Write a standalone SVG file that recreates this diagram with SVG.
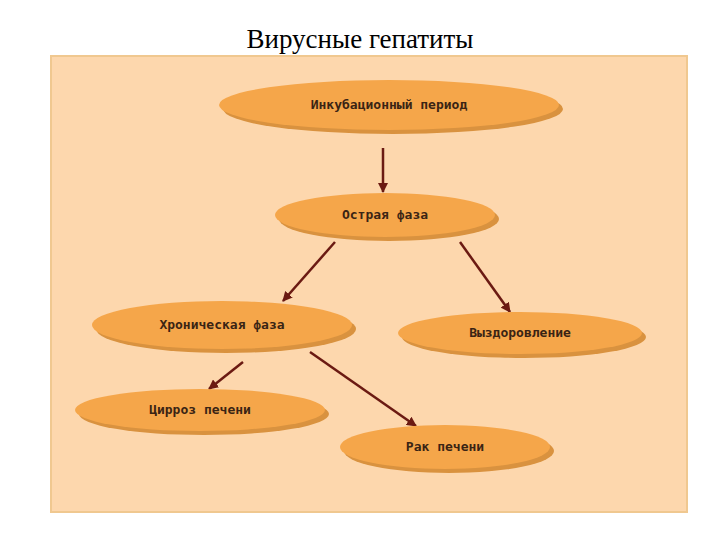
<svg xmlns="http://www.w3.org/2000/svg" width="720" height="540" viewBox="0 0 720 540">
<defs>
<style>
.n ellipse.s{fill:#d9923f;}
.n ellipse.f{fill:#f5a64a;}
.n text{font-family:"DejaVu Sans Mono",monospace;font-size:13px;font-weight:bold;fill:#3a2414;text-anchor:middle;dominant-baseline:middle;}
.c line{stroke:#6b1a12;stroke-width:2.5;marker-end:url(#ah);}
</style>
<marker id="ah" viewBox="0 0 10 10" refX="9" refY="5" markerWidth="4" markerHeight="4" orient="auto"><path d="M0,0L10,5L0,10z" fill="#6b1a12"/></marker>
</defs>
<rect width="720" height="540" fill="#fff"/>
<text x="360" y="48" font-family="Liberation Serif,serif" font-size="27" text-anchor="middle">Вирусные гепатиты</text>
<rect x="51" y="56" width="636" height="456" fill="#fdd7ad" stroke="#f0c890" stroke-width="2"/>
<g class="c">
<line x1="383" y1="148" x2="383" y2="192"/>
<line x1="335" y1="242" x2="283" y2="301"/>
<line x1="460" y1="242" x2="510" y2="312"/>
<line x1="243" y1="362" x2="209" y2="389"/>
<line x1="310" y1="352" x2="416" y2="426"/>
</g>
<g id="n1" class="n"><ellipse class="s" cx="393" cy="109" rx="170" ry="25"/><ellipse class="f" cx="389" cy="105" rx="170" ry="25"/><text x="389" y="105">Инкубационный период</text></g>
<g id="n2" class="n"><ellipse class="s" cx="389" cy="219" rx="110" ry="22"/><ellipse class="f" cx="385" cy="215" rx="110" ry="22"/><text x="385" y="215">Острая фаза</text></g>
<g id="n3" class="n"><ellipse class="s" cx="226" cy="329" rx="130" ry="24"/><ellipse class="f" cx="222" cy="325" rx="130" ry="24"/><text x="222" y="325">Хроническая фаза</text></g>
<g id="n4" class="n"><ellipse class="s" cx="524" cy="337" rx="122" ry="21"/><ellipse class="f" cx="520" cy="333" rx="122" ry="21"/><text x="520" y="333">Выздоровление</text></g>
<g id="n5" class="n"><ellipse class="s" cx="204" cy="414" rx="125" ry="21"/><ellipse class="f" cx="200" cy="410" rx="125" ry="21"/><text x="200" y="410">Цирроз печени</text></g>
<g id="n6" class="n"><ellipse class="s" cx="449" cy="451" rx="105" ry="22"/><ellipse class="f" cx="445" cy="447" rx="105" ry="22"/><text x="445" y="447">Рак печени</text></g>
</svg>
